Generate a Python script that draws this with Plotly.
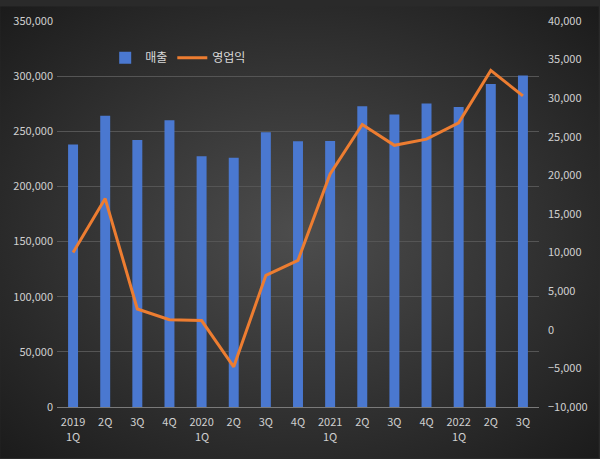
import plotly.graph_objects as go
import base64

tick_labels = ["2019", "2Q", "3Q", "4Q", "2020", "2Q", "3Q", "4Q",
               "2021", "2Q", "3Q", "4Q", "2022", "2Q", "3Q"]
sub_labels = {0: "1Q", 4: "1Q", 8: "1Q", 12: "1Q"}
sales = [238000, 264000, 242000, 260000, 227400, 225900, 249100, 241000,
         241300, 272600, 265200, 275300, 272000, 292900, 300600]
op_profit = [10000, 17000, 2700, 1300, 1200, -4800, 7050, 9000,
             20200, 26600, 23900, 24700, 26800, 33600, 30300]

left_ticks = [0, 50000, 100000, 150000, 200000, 250000, 300000, 350000]
right_ticks = [-10000, -5000, 0, 5000, 10000, 15000, 20000, 25000, 30000, 35000, 40000]

idx = list(range(len(tick_labels)))

svg = ('<svg xmlns="http://www.w3.org/2000/svg" width="600" height="459">'
       '<defs><radialGradient id="g" cx="50%" cy="50%" r="72%">'
       '<stop offset="0%" stop-color="#4d4d4d"/><stop offset="100%" stop-color="#1a1a1a"/>'
       '</radialGradient></defs><rect width="600" height="459" fill="url(#g)"/></svg>')
bg = "data:image/svg+xml;base64," + base64.b64encode(svg.encode()).decode()

W, H = 600, 459
ml, mr, mt, mb = 57, 60, 15, 52
pw, ph = W - ml - mr, H - mt - mb

font = dict(family="Noto Sans CJK KR, Noto Sans, sans-serif", size=11, color="#d0d0d0")

fig = go.Figure()
fig.add_trace(go.Bar(x=idx, y=sales, name="매출", marker_color="#4a78d0",
                     marker_line_width=0, width=0.31, yaxis="y"))
fig.add_trace(go.Scatter(x=idx, y=op_profit, name="영업익", mode="lines",
                         line=dict(color="#ED7D31", width=3), yaxis="y2"))

annotations = [dict(x=i, y=0, xref="x", yref="paper", text=t, showarrow=False,
                    yanchor="middle", yshift=-29, font=font)
               for i, t in sub_labels.items()]

fig.update_layout(
    width=W, height=H,
    margin=dict(l=ml, r=mr, t=mt, b=mb),
    paper_bgcolor="#2a2a2a",
    plot_bgcolor="rgba(0,0,0,0)",
    font=font,
    images=[dict(source=bg, xref="paper", yref="paper", x=-ml / pw, y=1 + mt / ph,
                 sizex=W / pw, sizey=H / ph,
                 xanchor="left", yanchor="top", sizing="stretch", layer="below")],
    xaxis=dict(range=[-0.5, len(idx) - 0.5], tickvals=idx, ticktext=tick_labels,
               showgrid=False, showline=True, linecolor="#7a7a7a", linewidth=1,
               zeroline=False, tickfont=font, ticks="", ticklabelstandoff=5),
    yaxis=dict(range=[0, 350000], tickvals=left_ticks, tickformat=",", showgrid=True,
               gridcolor="#555555", gridwidth=1, zeroline=False, tickfont=font, ticks="",
               ticklabelstandoff=3),
    yaxis2=dict(range=[-10000, 40000], tickvals=right_ticks, tickformat=",", overlaying="y",
                side="right", showgrid=False, zeroline=False, tickfont=font, ticks="",
                ticklabelstandoff=8),
    legend=dict(orientation="h", x=0.10, y=0.905, xanchor="left", yanchor="middle",
                bgcolor="rgba(0,0,0,0)", font=dict(family=font["family"], size=12, color="#d9d9d9")),
    annotations=annotations,
)
fig.write_html("out.html")
